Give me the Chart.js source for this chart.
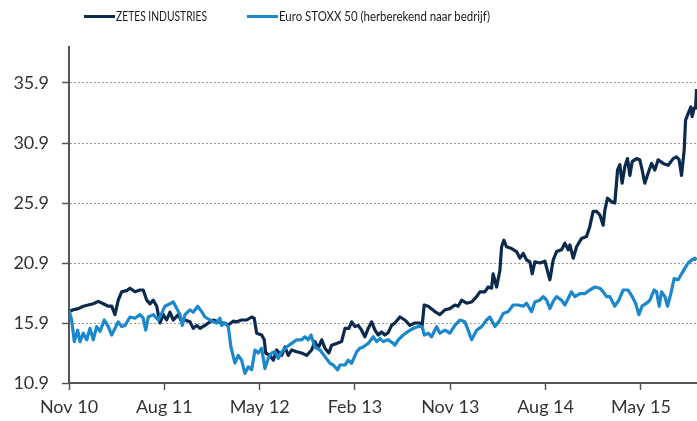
<!DOCTYPE html>
<html>
<head>
<meta charset="utf-8">
<script src="https://cdn.jsdelivr.net/npm/chart.js@4/dist/chart.umd.min.js"></script>
<style>
  html, body { margin: 0; padding: 0; background: #fff; }
  #wrap { position: relative; width: 697px; height: 421px; }
  #legend { position: absolute; top: 0; left: 0; width: 697px; height: 40px;
            font-family: 'Lato', sans-serif; font-size: 13.5px; color: #1a1a1a; }
  .sw { position: absolute; top: 15px; width: 31px; height: 3px; }
  .lb { position: absolute; top: 8px; white-space: nowrap; transform-origin: 0 50%; }
</style>
</head>
<body>
<div id="wrap">
  <canvas id="chart" width="697" height="421"></canvas>
  <div id="legend"></div>
</div>
<script>
// x = maanden sinds nov 2010
const seriesNames = ['ZETES INDUSTRIES', 'Euro STOXX 50 (herberekend naar bedrijf)'];
const seriesColors = ['#0b2a4d', '#1b87cc'];

const tickMonths = [0, 9, 18, 27, 36, 45, 54];
const tickLabels = ['Nov 10', 'Aug 11', 'May 12', 'Feb 13', 'Nov 13', 'Aug 14', 'May 15'];
const yTicks = [10.9, 15.9, 20.9, 25.9, 30.9, 35.9];

const zetesMonths = [0, 0.41, 0.88, 1.35, 1.82, 2.29, 2.77, 3.24, 3.71, 4.03, 4.34, 4.65, 4.97, 5.45, 5.76, 6.23, 6.70, 7.01, 7.34, 7.65,
  7.96, 8.28, 8.59, 8.90, 9.22, 9.53, 9.85, 10.32, 10.64, 10.95, 11.42, 11.73, 12.06, 12.37, 12.84, 13.15, 13.62, 14.09, 14.57, 15.06,
  15.51, 15.83, 16.30, 16.78, 17.25, 17.49, 17.72, 18.19, 18.44, 18.57, 18.97, 19.29, 19.61, 20.08, 20.39, 20.70, 21.02, 21.50, 21.97, 22.44,
  22.91, 23.22, 23.53, 23.86, 24.17, 24.54, 24.80, 25.27, 25.74, 26.06, 26.43, 26.69, 27.00, 27.31, 27.63, 27.94, 28.25, 28.58, 28.89, 29.20,
  29.52, 29.83, 30.14, 30.46, 30.77, 31.25, 31.72, 32.19, 32.66, 33.14, 33.35, 33.54, 33.92, 34.55, 35.02, 35.50, 35.97, 36.44, 36.75, 37.07,
  37.54, 38.02, 38.49, 38.80, 39.27, 39.58, 39.90, 40.05, 40.38, 40.69, 40.85, 41.06, 41.32, 41.79, 42.26, 42.58, 42.89, 43.21, 43.52, 43.74,
  43.99, 44.46, 44.94, 45.25, 45.41, 45.72, 46.04, 46.51, 46.82, 47.14, 47.30, 47.61, 47.93, 48.40, 48.87, 49.18, 49.49, 49.82, 50.13, 50.44,
  50.60, 50.85, 51.23, 51.54, 51.80, 52.02, 52.23, 52.49, 52.74, 52.96, 53.18, 53.59, 53.90, 54.12, 54.37, 54.69, 55.01, 55.32, 55.63, 56.10,
  56.58, 57.05, 57.37, 57.61, 57.84, 58.09, 58.22, 58.46, 58.72, 58.84, 59.03, 59.16, 59.26];
const zetesValues = [16.85, 17.0, 17.1, 17.3, 17.4, 17.5, 17.7, 17.5, 17.3, 17.3, 16.6, 17.8, 18.5, 18.6, 18.8, 18.5, 18.65, 18.65, 17.8, 17.5,
  17.8, 17.3, 15.9, 16.6, 16.15, 16.8, 16.15, 16.6, 16.0, 16.15, 16.0, 15.45, 15.7, 15.45, 15.7, 15.9, 16.15, 16.0, 15.9, 15.75,
  16.05, 16.0, 16.15, 16.15, 16.4, 16.3, 15.05, 14.9, 14.5, 13.4, 13.2, 12.8, 13.65, 13.2, 13.9, 13.2, 13.65, 13.5, 13.4, 13.2,
  13.65, 14.35, 13.8, 14.5, 13.8, 13.4, 14.05, 14.2, 14.35, 15.45, 15.45, 16.0, 15.6, 15.7, 15.3, 14.75, 15.45, 16.0, 15.3, 14.9,
  15.15, 14.9, 15.1, 15.7, 15.9, 16.4, 16.15, 15.7, 15.9, 15.9, 15.7, 17.4, 17.3, 16.85, 16.6, 17.0, 17.1, 17.4, 17.3, 17.8,
  17.55, 17.65, 18.1, 18.5, 18.5, 18.9, 18.8, 20.0, 18.9, 20.3, 22.25, 22.8, 22.25, 22.1, 21.85, 21.3, 21.7, 21.15, 21.0, 20.0,
  21.0, 20.9, 21.05, 20.0, 19.5, 21.15, 21.85, 22.0, 22.55, 22.0, 22.4, 21.3, 22.25, 22.95, 23.1, 23.95, 25.2, 25.2, 24.9, 24.05,
  25.3, 26.3, 26.0, 25.9, 28.65, 29.1, 27.55, 28.95, 29.6, 28.2, 29.35, 29.6, 29.5, 28.65, 27.55, 28.4, 29.2, 28.65, 29.5, 29.2,
  29.05, 29.6, 29.75, 29.5, 28.2, 30.3, 32.8, 33.35, 33.9, 33.1, 33.8, 33.8, 35.4];

const stoxxMonths = [0, 0.25, 0.50, 0.82, 1.04, 1.35, 1.67, 1.98, 2.29, 2.61, 2.93, 3.33, 3.71, 4.03, 4.34, 4.65, 4.97, 5.29, 5.76, 6.23,
  6.70, 7.01, 7.24, 7.49, 7.96, 8.43, 8.75, 9.06, 9.53, 9.85, 10.17, 10.48, 10.70, 10.95, 11.42, 11.73, 12.15, 12.53, 12.84, 13.31,
  13.62, 13.94, 14.25, 14.41, 14.73, 15.04, 15.29, 15.67, 15.98, 16.30, 16.61, 16.93, 17.25, 17.56, 17.87, 18.19, 18.50, 18.81, 19.14, 19.45,
  19.76, 20.08, 20.55, 21.02, 21.50, 21.97, 22.28, 22.59, 22.85, 23.22, 23.70, 24.17, 24.64, 24.95, 25.37, 25.58, 26.06, 26.37, 26.69, 27.16,
  27.47, 27.78, 28.25, 28.73, 29.05, 29.36, 29.67, 30.14, 30.61, 30.77, 31.09, 31.56, 32.03, 32.50, 32.97, 33.35, 33.54, 33.92, 34.24, 34.71,
  35.02, 35.50, 35.97, 36.44, 36.91, 37.38, 37.69, 38.02, 38.49, 38.96, 39.43, 39.74, 40.22, 40.69, 41.00, 41.47, 41.94, 42.42, 42.89, 43.21,
  43.68, 43.99, 44.46, 44.78, 45.10, 45.41, 45.72, 46.04, 46.51, 46.82, 47.14, 47.45, 47.77, 48.24, 48.71, 49.18, 49.66, 50.13, 50.44, 50.76,
  51.07, 51.54, 51.92, 52.33, 52.80, 53.18, 53.50, 53.81, 54.12, 54.54, 54.85, 55.26, 55.48, 55.73, 55.95, 56.27, 56.52, 56.83, 57.14, 57.52,
  57.84, 58.15, 58.46, 58.79, 59.10, 59.26];
const stoxxValues = [17.0, 16.15, 14.35, 15.3, 14.35, 15.05, 14.5, 15.45, 14.5, 15.6, 15.2, 16.15, 15.6, 14.9, 15.45, 16.0, 15.6, 15.7, 16.4, 16.3,
  16.6, 16.3, 15.3, 16.4, 16.6, 16.15, 16.7, 17.3, 17.5, 17.65, 17.1, 16.6, 15.7, 16.6, 17.0, 16.8, 17.3, 16.85, 16.4, 16.15,
  16.0, 15.9, 16.3, 15.7, 15.9, 15.6, 13.9, 12.55, 13.2, 12.8, 11.7, 12.25, 12.0, 13.65, 13.4, 13.8, 12.1, 12.95, 13.4, 13.5,
  12.95, 13.5, 13.9, 14.2, 14.5, 14.5, 14.75, 14.5, 14.9, 13.9, 13.65, 13.1, 12.55, 12.4, 12.0, 12.4, 12.4, 12.8, 12.55, 13.5,
  13.8, 13.9, 14.2, 14.75, 14.35, 14.6, 14.35, 14.5, 14.2, 14.05, 14.5, 14.9, 15.2, 15.45, 15.6, 15.6, 14.9, 15.05, 14.75, 15.6,
  15.05, 15.3, 15.05, 15.7, 16.15, 16.0, 15.3, 14.5, 15.3, 15.6, 16.15, 16.4, 15.6, 16.15, 16.7, 16.85, 17.4, 17.4, 17.3, 17.55,
  16.85, 17.65, 17.8, 18.1, 17.8, 17.1, 17.7, 18.1, 17.8, 17.4, 17.95, 18.5, 18.1, 18.35, 18.35, 18.65, 18.9, 18.8, 18.5, 18.1,
  18.1, 17.3, 17.8, 18.65, 18.65, 18.1, 17.55, 16.6, 17.3, 17.55, 17.8, 18.65, 18.5, 17.3, 18.5, 18.1, 17.3, 18.35, 19.6, 19.5,
  20.0, 20.45, 20.9, 21.15, 21.3, 21.15];

const toPoints = (xs, ys) => xs.map((x, i) => ({ x: x, y: ys[i] }));

// legenda in html, zoals in het origineel niet gecentreerd en smal gezet
const legendPos = [{ sw: 84, lb: 116, w: 91 }, { sw: 247, lb: 279, w: 211 }];
const legendEl = document.getElementById('legend');
seriesNames.forEach((name, i) => {
  const sw = document.createElement('div');
  sw.className = 'sw';
  sw.style.left = legendPos[i].sw + 'px';
  sw.style.background = seriesColors[i];
  const lb = document.createElement('div');
  lb.className = 'lb';
  lb.style.left = legendPos[i].lb + 'px';
  lb.textContent = name;
  legendEl.appendChild(sw);
  legendEl.appendChild(lb);
  const w = lb.getBoundingClientRect().width;
  if (w > 0) lb.style.transform = 'scaleX(' + (legendPos[i].w / w).toFixed(3) + ')';
});

const tickFont = { family: 'Lato, sans-serif', size: 18 };

new Chart(document.getElementById('chart').getContext('2d'), {
  type: 'line',
  data: {
    datasets: [
      { label: seriesNames[1], data: toPoints(stoxxMonths, stoxxValues), borderColor: seriesColors[1], order: 0 },
      { label: seriesNames[0], data: toPoints(zetesMonths, zetesValues), borderColor: seriesColors[0], order: 1 }
    ]
  },
  options: {
    responsive: false,
    animation: false,
    devicePixelRatio: 1,
    layout: { padding: { top: 47, right: 0, left: 0, bottom: 0 } },
    elements: {
      line: { borderWidth: 3.2, tension: 0, fill: false, borderJoinStyle: 'round' },
      point: { radius: 0 }
    },
    plugins: { legend: { display: false }, tooltip: { enabled: false } },
    scales: {
      x: {
        type: 'linear',
        min: 0,
        max: 59.3,
        afterFit: (s) => { s.height = 38; },
        afterBuildTicks: (s) => { s.ticks = tickMonths.map(v => ({ value: v })); },
        grid: { drawOnChartArea: false, drawTicks: true, tickLength: 7, tickColor: '#555', tickWidth: 1.5 },
        border: { color: '#555', width: 2 },
        ticks: {
          autoSkip: false, maxRotation: 0, padding: 6, color: '#333', font: tickFont,
          callback: (v) => tickLabels[tickMonths.indexOf(v)]
        }
      },
      y: {
        min: 10.9,
        max: 38.9,
        afterFit: (s) => { s.width = 69; },
        afterBuildTicks: (s) => { s.ticks = yTicks.map(v => ({ value: v })); },
        grid: { color: '#999', lineWidth: 1, tickLength: 7, tickColor: '#555', tickBorderDash: [], tickWidth: 1.5 },
        border: { color: '#555', width: 2, dash: [2, 2] },
        ticks: { padding: 13, color: '#333', font: tickFont, callback: (v) => Number(v).toFixed(1) }
      }
    }
  }
});
</script>
</body>
</html>
